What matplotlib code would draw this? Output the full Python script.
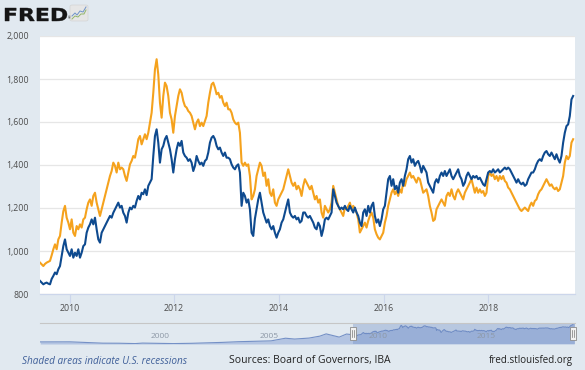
import numpy as np
import pandas as pd
import matplotlib
matplotlib.use('Agg')
import matplotlib.pyplot as plt
from matplotlib.ticker import FuncFormatter
from matplotlib.textpath import TextPath
from matplotlib.font_manager import FontProperties
from matplotlib.patches import PathPatch, Rectangle, FancyBboxPatch
from matplotlib.lines import Line2D
from matplotlib.transforms import Affine2D

# ---------------- data ----------------
start_date = '2009-06-09'
step = '279h'

orange = [
    946, 938, 930, 940, 946, 950, 954, 980, 1008, 1031, 1008, 1054, 1070, 1132, 1185, 1210,
    1155, 1132, 1101, 1147, 1085, 1070, 1116, 1101, 1124, 1109, 1147, 1155, 1194, 1225, 1240, 1210,
    1256, 1271, 1225, 1194, 1163, 1194, 1225, 1256, 1287, 1318, 1349, 1372, 1411, 1396, 1365, 1411,
    1380, 1388, 1380, 1349, 1326, 1365, 1403, 1419, 1442, 1434, 1473, 1520, 1535, 1496, 1520, 1543,
    1520, 1550, 1597, 1643, 1736, 1845, 1892, 1820, 1690, 1620, 1721, 1783, 1767, 1721, 1643, 1612,
    1550, 1628, 1674, 1721, 1752, 1736, 1698, 1674, 1667, 1651, 1643, 1628, 1597, 1566, 1597, 1612,
    1581, 1597, 1581, 1605, 1628, 1690, 1736, 1775, 1783, 1760, 1729, 1736, 1713, 1721, 1690, 1674,
    1690, 1659, 1659, 1643, 1612, 1597, 1589, 1597, 1550, 1411, 1396, 1411, 1396, 1403, 1349, 1240,
    1256, 1287, 1349, 1380, 1411, 1396, 1349, 1365, 1303, 1334, 1271, 1256, 1287, 1225, 1210, 1240,
    1256, 1271, 1287, 1318, 1349, 1380, 1349, 1318, 1303, 1318, 1287, 1303, 1287, 1256, 1303, 1334,
    1318, 1303, 1287, 1303, 1271, 1240, 1256, 1225, 1240, 1179, 1155, 1210, 1194, 1179, 1194, 1225,
    1303, 1271, 1240, 1210, 1194, 1179, 1163, 1202, 1194, 1210, 1225, 1194, 1210, 1194, 1179, 1147,
    1086, 1101, 1116, 1132, 1109, 1140, 1163, 1179, 1155, 1101, 1078, 1062, 1054, 1070, 1085, 1132,
    1163, 1210, 1240, 1271, 1287, 1264, 1279, 1256, 1287, 1271, 1318, 1303, 1334, 1349, 1365, 1341,
    1349, 1334, 1318, 1341, 1334, 1303, 1271, 1279, 1287, 1256, 1210, 1179, 1140, 1147, 1194, 1210,
    1225, 1240, 1225, 1210, 1256, 1271, 1256, 1287, 1256, 1240, 1271, 1287, 1271, 1256, 1240, 1271,
    1287, 1303, 1318, 1334, 1303, 1271, 1295, 1271, 1287, 1271, 1279, 1256, 1271, 1349, 1365, 1349,
    1357, 1334, 1349, 1326, 1349, 1334, 1349, 1326, 1318, 1295, 1287, 1271, 1256, 1240, 1225, 1210,
    1194, 1186, 1194, 1202, 1194, 1186, 1210, 1225, 1210, 1233, 1240, 1264, 1279, 1287, 1303, 1318,
    1334, 1318, 1303, 1310, 1295, 1287, 1295, 1279, 1287, 1318, 1349, 1411, 1442, 1427, 1442, 1504,
    1520,
]

blue = [
    861, 853, 845, 850, 853, 848, 845, 870, 884, 900, 892, 915, 930, 977, 1023, 1054,
    1008, 992, 977, 1008, 969, 992, 977, 1008, 969, 992, 1023, 1031, 1085, 1109, 1124, 1147,
    1124, 1155, 1101, 1054, 1039, 1085, 1101, 1116, 1132, 1147, 1163, 1155, 1178, 1194, 1210, 1225,
    1202, 1210, 1178, 1163, 1132, 1178, 1202, 1194, 1210, 1202, 1233, 1256, 1240, 1271, 1264, 1287,
    1260, 1303, 1318, 1334, 1442, 1535, 1566, 1504, 1411, 1473, 1489, 1520, 1535, 1504, 1473, 1427,
    1365, 1427, 1473, 1504, 1489, 1512, 1458, 1442, 1434, 1419, 1427, 1411, 1372, 1396, 1442, 1419,
    1403, 1411, 1396, 1419, 1427, 1458, 1504, 1527, 1535, 1520, 1489, 1473, 1481, 1458, 1442, 1458,
    1434, 1434, 1427, 1403, 1388, 1380, 1396, 1403, 1365, 1210, 1271, 1256, 1225, 1240, 1194, 1085,
    1070, 1150, 1194, 1240, 1271, 1225, 1179, 1155, 1132, 1147, 1116, 1101, 1116, 1085, 1062, 1085,
    1101, 1132, 1147, 1179, 1210, 1240, 1179, 1163, 1155, 1163, 1147, 1155, 1132, 1140, 1179, 1179,
    1163, 1155, 1163, 1147, 1132, 1109, 1101, 1132, 1116, 1070, 1101, 1147, 1155, 1147, 1163, 1179,
    1287, 1256, 1225, 1210, 1194, 1202, 1194, 1210, 1194, 1186, 1210, 1194, 1179, 1202, 1179, 1163,
    1132, 1116, 1179, 1194, 1163, 1210, 1179, 1210, 1225, 1163, 1132, 1147, 1116, 1147, 1194, 1210,
    1271, 1334, 1349, 1303, 1334, 1287, 1303, 1271, 1318, 1334, 1303, 1349, 1380, 1427, 1442, 1411,
    1427, 1396, 1411, 1419, 1396, 1365, 1396, 1380, 1365, 1318, 1303, 1287, 1271, 1318, 1334, 1318,
    1349, 1365, 1349, 1372, 1349, 1365, 1380, 1349, 1334, 1349, 1365, 1380, 1349, 1334, 1303, 1318,
    1349, 1365, 1349, 1334, 1349, 1341, 1349, 1334, 1341, 1326, 1310, 1303, 1334, 1365, 1372, 1365,
    1380, 1365, 1372, 1380, 1365, 1372, 1380, 1388, 1380, 1388, 1380, 1365, 1349, 1334, 1318, 1334,
    1318, 1310, 1318, 1303, 1310, 1334, 1349, 1365, 1365, 1380, 1403, 1419, 1427, 1419, 1442, 1458,
    1465, 1450, 1442, 1458, 1442, 1427, 1450, 1427, 1411, 1442, 1504, 1550, 1581, 1589, 1628, 1705,
    1721,
]

# longer history shown in the navigator strip (before the main window)
nav_hist_dates = ['1995-01-15', '1995-09-01', '1996-06-01', '1997-03-01', '1997-12-01',
                  '1998-09-01', '1999-06-01', '1999-10-01', '2000-06-01', '2001-03-01',
                  '2002-01-01', '2002-09-01', '2003-06-01', '2004-03-01', '2004-12-01',
                  '2005-09-01', '2006-05-01', '2006-10-01', '2007-06-01', '2007-12-01',
                  '2008-03-15', '2008-10-20', '2009-02-20', '2009-06-01']
nav_hist_vals = [385, 385, 390, 345, 295, 290, 265, 300, 285, 265,
                 285, 315, 350, 400, 430, 460, 650, 590, 660, 800,
                 960, 730, 950, 900]

y_ticks = [800, 1000, 1200, 1400, 1600, 1800, 2000]
x_tick_years = [2010, 2012, 2014, 2016, 2018]
nav_tick_years = [2000, 2005, 2010, 2015]

main_start, main_end = '2009-06-09', '2019-08-29'
nav_start = '1995-01-11'

# ---------------- style ----------------
W, H = 585, 370
BG = '#e1e9f0'
ORANGE = '#f5a21d'
BLUE = '#0e4a8f'
TXT = '#4d4d4d'

plt.rcParams['font.family'] = ['Open Sans', 'DejaVu Sans']

fig = plt.figure(figsize=(W / 100, H / 100), dpi=100, facecolor=BG)


def fx(px):
    return px / W


def fy(py):
    return 1 - py / H


dates = pd.date_range(start_date, periods=len(orange), freq=step)

ax = fig.add_axes([fx(40), fy(294), fx(575) - fx(40), fy(36) - fy(294)])
ax.set_facecolor('white')
ax.plot(dates, orange, color=ORANGE, lw=1.5, solid_joinstyle='round', zorder=3)
ax.plot(dates, blue, color=BLUE, lw=1.5, solid_joinstyle='round', zorder=4)

ax.set_xlim(pd.Timestamp(main_start), pd.Timestamp(main_end))
ax.set_ylim(800, 2000)
ax.set_yticks(y_ticks)
ax.yaxis.set_major_formatter(FuncFormatter(lambda v, p: f'{v:,.0f}'))
ax.set_xticks([pd.Timestamp(f'{y}-01-01') for y in x_tick_years])
ax.set_xticklabels([str(y) for y in x_tick_years])
ax.yaxis.grid(True, color='#e6e6e6', lw=0.9)
ax.set_axisbelow(True)
for s in ['top', 'right', 'left']:
    ax.spines[s].set_visible(False)
ax.spines['bottom'].set_color('#ccd6eb')
ax.spines['bottom'].set_linewidth(0.9)
ax.tick_params(axis='y', length=0, pad=8, labelsize=6.3, labelcolor=TXT)
ax.tick_params(axis='x', length=6.2, width=0.8, color='#ccd6eb', pad=1.2,
               labelsize=6.3, labelcolor=TXT)

# ---------------- navigator ----------------
nav = fig.add_axes([fx(40), fy(344), fx(575) - fx(40), fy(323) - fy(344)])
nav.set_facecolor(BG)
nd = pd.to_datetime(nav_hist_dates).append(dates)
nv = np.array(nav_hist_vals + blue, dtype=float)
nav.fill_between(nd, nv.min() - 30, nv, color='#b3c4e2', lw=0, zorder=1)
nav.plot(nd, nv, color='#7490c6', lw=0.8, zorder=2)
nav.axvspan(pd.Timestamp(main_start), pd.Timestamp(main_end), color='#6685c2', alpha=0.33,
            lw=0, zorder=3)
nav.set_xlim(pd.Timestamp(nav_start), pd.Timestamp(main_end))
nav.set_ylim(nv.min() - 30, nv.max() + 20)
nav.set_xticks([])
nav.set_yticks([])
for s in nav.spines.values():
    s.set_visible(False)
fig.add_artist(Line2D([fx(40), fx(575)], [fy(323), fy(323)], transform=fig.transFigure,
                      color='#c6c6c6', lw=0.8))
for y in nav_tick_years:
    nav.annotate(str(y), xy=(pd.Timestamp(f'{y}-01-01'), 0.35),
                 xycoords=('data', 'axes fraction'), xytext=(2.2, 0),
                 textcoords='offset points', ha='left', va='center',
                 fontsize=6.0, color='#8d98a6', zorder=6)

# handles
for hx in (353, 573):
    fig.add_artist(Rectangle((fx(hx - 3), fy(340)), 6 / W, 13 / H, transform=fig.transFigure,
                             fc='#f2f2f2', ec='#8c8c8c', lw=0.6, zorder=10))
    for dx in (-1, 1):
        fig.add_artist(Line2D([fx(hx + dx), fx(hx + dx)], [fy(337), fy(330)],
                              transform=fig.transFigure, color='#777777', lw=0.5, zorder=11))

# ---------------- logo ----------------
fp = FontProperties(family='DejaVu Sans', weight='bold')
tp = TextPath((0, 0), 'FRED', size=10, prop=fp)
ext = tp.get_extents()
tr = (Affine2D().translate(-ext.x0, -ext.y0)
      .scale((62 / W) / ext.width, (13 / H) / ext.height)
      .translate(fx(5), fy(21)) + fig.transFigure)
fig.add_artist(PathPatch(tp, transform=tr, fc='#151515', ec='#151515', lw=0.3))
fig.text(fx(67.5), fy(20.5), '®', fontsize=2.5, color='#151515', ha='left', va='bottom')
fig.add_artist(FancyBboxPatch((fx(70), fy(21)), 18 / W, 16 / H,
                              boxstyle='round,pad=0,rounding_size=0.004',
                              transform=fig.transFigure, fc='#e6e6e6', ec='#d4d4d4', lw=0.5))
fig.add_artist(Line2D([fx(p) for p in (72, 75, 77, 80, 83, 86)],
                      [fy(p) for p in (16, 13, 15, 11, 12, 7)],
                      transform=fig.transFigure, color='#6f93c9', lw=0.7))
fig.add_artist(Line2D([fx(p) for p in (72, 75, 78, 81, 84, 86)],
                      [fy(p) for p in (19, 16, 17, 14, 14, 10)],
                      transform=fig.transFigure, color='#93b56b', lw=0.7))

# ---------------- footer ----------------
fig.text(fx(22), fy(361), 'Shaded areas indicate U.S. recessions', fontsize=7.2,
         style='italic', color='#3f5f99', ha='left', va='center')
fig.text(fx(229), fy(361), 'Sources: Board of Governors, IBA', fontsize=7.5,
         color='#222222', ha='left', va='center')
fig.text(fx(573), fy(361), 'fred.stlouisfed.org', fontsize=7.0,
         color='#222222', ha='right', va='center')

fig.savefig('out.png', dpi=100, facecolor=BG)
